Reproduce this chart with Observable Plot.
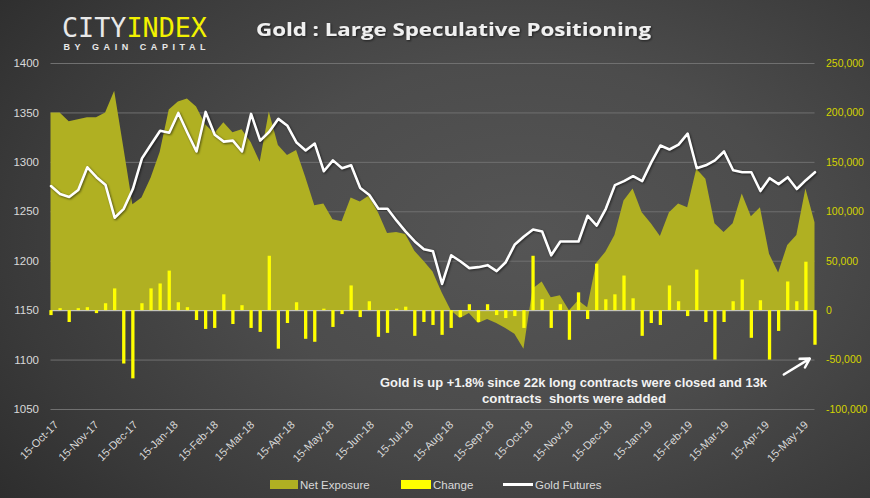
<!DOCTYPE html>
<html>
<head>
<meta charset="utf-8">
<script src="https://cdn.jsdelivr.net/npm/d3@7"></script>
<script src="https://cdn.jsdelivr.net/npm/@observablehq/plot@0.6"></script>
<style>
  html, body { margin: 0; padding: 0; }
  body { width: 870px; height: 498px; overflow: hidden; }
  #wrap {
    position: relative; width: 870px; height: 498px;
    background: radial-gradient(ellipse 78% 90% at 60% 48%, #555555 0%, #4c4c4c 40%, #3a3a3a 75%, #2b2b2b 100%);
    font-family: "Liberation Sans", Arial, sans-serif;
  }
  #chart, #overlay { position: absolute; left: 0; top: 0; }
  #overlay { pointer-events: none; }
</style>
</head>
<body>
<div id="wrap">
  <div id="chart"></div>
  <svg id="overlay" width="870" height="498" xmlns="http://www.w3.org/2000/svg">
    <defs>
      <filter id="ts" x="-5%" y="-30%" width="110%" height="160%">
        <feDropShadow dx="1" dy="1" stdDeviation="0.8" flood-color="#000" flood-opacity="0.6"/>
      </filter>
    </defs>
    <text x="62" y="37" font-family="DejaVu Sans Mono" font-size="26.5" textLength="145" lengthAdjust="spacingAndGlyphs"><tspan fill="#e8e8e8">CITY</tspan><tspan fill="#f2f200">INDEX</tspan></text>
    <text x="63.5" y="49.5" font-family="Liberation Sans, Arial" font-weight="bold" font-size="9" fill="#e8e8e8" textLength="142">BY GAIN CAPITAL</text>
    <text x="256" y="36" font-family="Open Sans" font-weight="bold" font-size="18" fill="#f0f0f0" textLength="395" lengthAdjust="spacingAndGlyphs" filter="url(#ts)">Gold : Large Speculative Positioning</text>
    <text x="573.5" y="387" text-anchor="middle" font-family="Liberation Sans, Arial" font-weight="bold" font-size="13" fill="#f2f2f2" textLength="387" lengthAdjust="spacingAndGlyphs">Gold is up +1.8% since 22k long contracts were closed and 13k</text>
    <text x="574" y="403" text-anchor="middle" font-family="Liberation Sans, Arial" font-weight="bold" font-size="13" fill="#f2f2f2" style="white-space:pre" textLength="184" lengthAdjust="spacingAndGlyphs">contracts  shorts were added</text>
    <rect x="270" y="480" width="28" height="9" fill="#b0b022"/>
    <text x="300" y="489" font-family="Liberation Sans, Arial" font-size="11.5" fill="#d9d9d9">Net Exposure</text>
    <rect x="401" y="480" width="30" height="9" fill="#ffff00"/>
    <text x="433" y="489" font-family="Liberation Sans, Arial" font-size="11.5" fill="#d9d9d9">Change</text>
    <line x1="503" x2="533" y1="484.5" y2="484.5" stroke="#ffffff" stroke-width="3"/>
    <text x="535" y="489" font-family="Liberation Sans, Arial" font-size="11.5" fill="#d9d9d9">Gold Futures</text>
  </svg>
</div>
<script>
// ---- Data (weekly) ----
const dates = [
"2017-10-15","2017-10-22","2017-10-29","2017-11-05","2017-11-12","2017-11-19","2017-11-26","2017-12-03","2017-12-10","2017-12-17","2017-12-24","2017-12-31",
"2018-01-07","2018-01-14","2018-01-21","2018-01-28","2018-02-04","2018-02-11","2018-02-18","2018-02-25","2018-03-04","2018-03-11","2018-03-18","2018-03-25",
"2018-04-01","2018-04-08","2018-04-15","2018-04-22","2018-04-29","2018-05-06","2018-05-13","2018-05-20","2018-05-27","2018-06-03","2018-06-10","2018-06-17","2018-06-24",
"2018-07-01","2018-07-08","2018-07-15","2018-07-22","2018-07-29","2018-08-05","2018-08-12","2018-08-19","2018-08-26","2018-09-02","2018-09-09","2018-09-16","2018-09-23","2018-09-30",
"2018-10-07","2018-10-14","2018-10-21","2018-10-28","2018-11-04","2018-11-11","2018-11-18","2018-11-25","2018-12-02","2018-12-09","2018-12-16","2018-12-23","2018-12-30",
"2019-01-06","2019-01-13","2019-01-20","2019-01-27","2019-02-03","2019-02-10","2019-02-17","2019-02-24","2019-03-03","2019-03-10","2019-03-17","2019-03-24","2019-03-31",
"2019-04-07","2019-04-14","2019-04-21","2019-04-28","2019-05-05","2019-05-12","2019-05-19","2019-05-26"];

// Net exposure (contracts)
const netExposure = [
200000,200000,191000,193000,195000,195000,200000,222000,165000,107000,114000,134000,
160000,203000,211000,214000,206000,188000,179000,190000,180000,183000,170000,150000,
201000,167000,157000,162000,135000,106000,108000,92000,90000,114000,110000,116000,99000,
78000,79000,77000,60000,50000,39000,18000,0,-8000,-3000,-13000,-9000,-13000,-18000,
-24000,-39000,22000,29000,13000,15000,0,10000,3000,48000,59000,76000,111000,
123000,99000,88000,75000,99000,108000,104000,143000,133000,88000,79000,88000,118000,
95000,104000,57000,38000,66000,76000,123000,89000];

// Weekly change (contracts)
const change = [
-5000,2000,-12000,2000,3000,-3000,7000,22000,-54000,-69000,7000,22000,
27000,40000,8000,3000,-10000,-19000,-18000,16000,-14000,5000,-18000,-22000,
55000,-39000,-13000,8000,-29000,-32000,1500,-17000,-4000,25000,-7000,9000,-27000,
-23000,1500,3500,-26000,-12000,-15000,-25000,-18000,-7000,6000,-12000,6000,-5000,-8000,
-6000,-18000,55000,11000,-18000,6000,-30000,18000,-9000,47000,11000,16000,35000,
12000,-26000,-13000,-15000,25000,9000,-6000,41000,-12000,-50000,-12000,9000,31000,
-28000,10000,-50000,-21000,29000,9000,49000,-35000];

// Gold futures price (USD)
const goldFutures = [
1276,1268,1265,1272,1295,1285,1277,1244,1253,1273,1304,1318,
1332,1330,1350,1330,1311,1351,1328,1321,1322,1311,1349,1322,
1331,1344,1337,1320,1312,1319,1291,1302,1294,1297,1274,1267,1253,
1253,1241,1230,1220,1212,1210,1177,1206,1200,1193,1194,1196,1190,1199,
1217,1225,1232,1230,1206,1220,1220,1220,1246,1236,1253,1277,1281,
1286,1281,1300,1317,1313,1318,1329,1294,1297,1302,1311,1292,1290,
1290,1271,1284,1278,1285,1273,1282,1290];

// Axis ticks
const rightTicks = [-100000,-50000,0,50000,100000,150000,200000,250000];
const leftTicks = [1050,1100,1150,1200,1250,1300,1350,1400];
const xTickDates = [
"2017-10-15","2017-11-15","2017-12-15","2018-01-15","2018-02-15","2018-03-15","2018-04-15","2018-05-15","2018-06-15","2018-07-15",
"2018-08-15","2018-09-15","2018-10-15","2018-11-15","2018-12-15","2019-01-15","2019-02-15","2019-03-15","2019-04-15","2019-05-15"];

// Annotation arrow (data coordinates)
const arrowData = [{x1: "2019-05-02", y1: -64600, x2: "2019-05-22", y2: -48500}];

// Secondary-axis mapping: left price 1150 aligns with 0 contracts; 1 USD = 1000 contracts
const LEFT_BASE = 1150, RATIO = 1000;

const parse = d3.utcParse("%Y-%m-%d");
const rows = dates.map((d, i) => ({date: parse(d), net: netExposure[i], change: change[i], gold: goldFutures[i]}));
const fmtDate = d3.utcFormat("%d-%b-%y");
const fmtRight = v => d3.format(",")(v).replace("\u2212", "-");

const chart = Plot.plot({
  width: 870,
  height: 498,
  marginLeft: 50.5,
  marginRight: 55.5,
  marginTop: 63,
  marginBottom: 89,
  style: {background: "transparent", color: "#d9d9d9", fontFamily: "Liberation Sans, Arial, sans-serif", overflow: "visible"},
  x: {type: "utc", domain: [parse(dates[0]), parse(dates[dates.length - 1])], axis: null},
  y: {domain: [-100000, 250000], axis: null},
  marks: [
    Plot.ruleY(rightTicks, {stroke: "#707070", strokeWidth: 1}),
    Plot.areaY(rows, {x: "date", y: "net", fill: "#b0b022"}),
    Plot.ruleY([0], {stroke: "#d0d0d0", strokeWidth: 1}),
    Plot.ruleX(rows, {x: "date", y1: 0, y2: "change", stroke: "#ffff00", strokeWidth: 3.3}),
    Plot.line(rows, {x: "date", y: d => (d.gold - LEFT_BASE) * RATIO, stroke: "#ffffff", strokeWidth: 2.6}),
    Plot.text(leftTicks, {y: d => (d - LEFT_BASE) * RATIO, text: d => String(d), frameAnchor: "left", textAnchor: "end", dx: -12, fill: "#d9d9d9", fontSize: 11.5}),
    Plot.text(rightTicks, {y: d => d, text: d => fmtRight(d), frameAnchor: "right", textAnchor: "start", dx: 11, fill: "#d4d400", fontSize: 10.5}),
    Plot.text(xTickDates, {x: d => parse(d), text: d => fmtDate(parse(d)), frameAnchor: "bottom", rotate: -45, textAnchor: "end", dx: 8, dy: 16, fill: "#d9d9d9", fontSize: 11}),
    Plot.arrow(arrowData, {x1: d => parse(d.x1), y1: "y1", x2: d => parse(d.x2), y2: "y2", stroke: "#ffffff", strokeWidth: 2.5, headLength: 9})
  ]
});
document.getElementById("chart").appendChild(chart);
d3.select(chart).selectAll('g[aria-label="line"] path').style("filter", "drop-shadow(1px 1px 1px rgba(0,0,0,0.55))");
</script>
</body>
</html>
